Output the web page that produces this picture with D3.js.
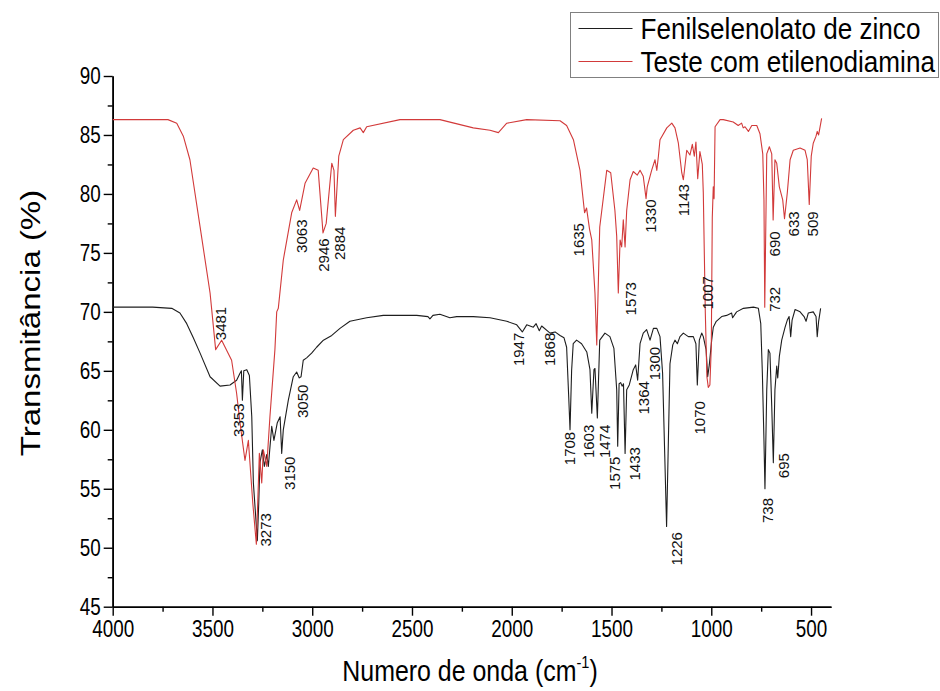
<!DOCTYPE html>
<html>
<head>
<meta charset="utf-8">
<script src="https://cdn.jsdelivr.net/npm/d3@7"></script>
<style>
  body { margin: 0; background: #fff; }
  svg { display: block; }
  text { font-family: "Liberation Sans", Arial, sans-serif; fill: #000; }
  .peak { font-size: 15px; fill: #111; }
</style>
</head>
<body>
<div id="chart"></div>
<script>
// [wavenumber cm-1, transmittance %]
const fenilSelenolato = [
  [4000, 70.4], [3800, 70.4], [3704, 70.3], [3663, 69.9], [3629, 69.0], [3596, 67.8], [3562, 66.5],
  [3512, 64.5], [3462, 63.7], [3412, 63.8], [3379, 64.2], [3362, 64.8], [3355, 65.0], [3350, 62.5],
  [3343, 65.0], [3328, 65.1], [3315, 64.6], [3303, 61.1], [3295, 55.5], [3275, 50.6], [3268, 53.8],
  [3262, 57.2], [3250, 58.3], [3240, 56.9], [3228, 57.9], [3220, 56.9], [3203, 60.3], [3192, 59.1],
  [3175, 60.6], [3161, 61.1], [3153, 58.0], [3145, 60.0], [3120, 62.5], [3095, 64.5], [3078, 64.9],
  [3065, 64.4], [3056, 64.5], [3045, 65.9], [3028, 66.1], [3003, 66.5], [2978, 67.0], [2944, 67.6],
  [2902, 68.0], [2861, 68.6], [2811, 69.2], [2727, 69.5], [2644, 69.7], [2476, 69.7], [2420, 69.6],
  [2410, 69.4], [2395, 69.7], [2360, 69.8], [2310, 69.5], [2276, 69.6], [2193, 69.6], [2109, 69.5],
  [2025, 69.2], [1975, 68.9], [1947, 68.3], [1925, 68.9], [1892, 68.7], [1878, 69.0], [1862, 68.4],
  [1850, 68.8], [1808, 68.2], [1783, 68.3], [1758, 68.0], [1738, 67.8], [1725, 67.0], [1715, 63.0],
  [1708, 60.0], [1700, 65.0], [1692, 67.3], [1675, 67.6], [1650, 67.3], [1624, 66.6], [1608, 65.1],
  [1599, 61.4], [1588, 65.1], [1583, 65.2], [1571, 61.0], [1559, 67.6], [1533, 68.2], [1508, 67.9],
  [1488, 66.9], [1474, 63.4], [1469, 58.6], [1462, 63.9], [1454, 64.0], [1447, 63.7], [1440, 63.9],
  [1432, 58.0], [1424, 63.4], [1411, 63.8], [1391, 65.1], [1379, 65.5], [1369, 64.2], [1357, 67.3],
  [1341, 68.2], [1324, 68.5], [1307, 67.6], [1290, 68.6], [1273, 68.6], [1257, 67.9], [1244, 64.8],
  [1233, 57.7], [1224, 51.8], [1215, 59.1], [1207, 65.6], [1193, 67.2], [1182, 67.6], [1170, 67.3],
  [1157, 67.9], [1140, 68.2], [1115, 67.9], [1090, 67.9], [1077, 67.3], [1070, 63.8], [1060, 67.6],
  [1048, 68.2], [1040, 67.9], [1026, 66.8], [1018, 64.5], [1010, 65.5], [998, 67.6], [990, 68.7],
  [975, 69.2], [948, 69.6], [923, 69.7], [898, 69.9], [893, 69.5], [873, 70.0], [839, 70.3],
  [789, 70.4], [764, 70.3], [752, 69.0], [744, 64.8], [736, 59.1], [731, 55.0], [722, 63.4],
  [714, 66.8], [706, 66.5], [697, 62.0], [689, 57.2], [681, 63.4], [672, 65.4], [667, 64.4],
  [659, 66.2], [647, 67.6], [630, 68.7], [619, 69.3], [610, 69.6], [602, 67.9], [595, 69.3],
  [580, 70.2], [555, 70.0], [535, 69.6], [525, 69.2], [514, 69.9], [489, 70.0], [475, 69.6],
  [469, 67.9], [462, 69.2], [452, 70.3]
];

const testeEtilenodiamina = [
  [4000, 86.3], [3800, 86.3], [3723, 86.3], [3679, 86.0], [3646, 84.9], [3613, 82.9], [3562, 77.2],
  [3512, 71.6], [3484, 66.8], [3454, 67.6], [3404, 65.9], [3379, 63.1], [3362, 60.6], [3337, 57.4],
  [3320, 59.1], [3298, 53.8], [3280, 50.3], [3265, 58.0], [3253, 55.5], [3245, 58.3], [3228, 56.9],
  [3212, 61.1], [3187, 66.8], [3178, 70.0], [3170, 70.3], [3145, 74.4], [3103, 78.4], [3078, 79.5],
  [3063, 78.6], [3036, 80.9], [2995, 82.2], [2970, 82.0], [2946, 76.7], [2930, 77.5], [2902, 82.6],
  [2891, 82.0], [2884, 78.1], [2867, 83.2], [2844, 84.6], [2794, 85.4], [2760, 85.6], [2744, 85.2],
  [2727, 85.7], [2560, 86.3], [2393, 86.3], [2360, 86.3], [2193, 85.6], [2109, 85.4], [2067, 85.2],
  [2025, 86.0], [1925, 86.3], [1758, 86.2], [1725, 85.8], [1691, 84.6], [1658, 82.0], [1635, 78.4],
  [1625, 78.8], [1610, 77.0], [1599, 76.1], [1583, 71.6], [1574, 67.2], [1559, 77.2], [1524, 82.0],
  [1504, 81.8], [1483, 78.6], [1474, 76.4], [1466, 71.6], [1457, 76.1], [1449, 75.5], [1441, 77.8],
  [1432, 75.5], [1424, 78.6], [1407, 81.2], [1391, 81.9], [1371, 81.6], [1357, 82.0], [1341, 81.5],
  [1327, 79.6], [1321, 80.6], [1299, 82.0], [1282, 82.9], [1273, 82.0], [1265, 83.2], [1257, 84.6],
  [1223, 85.6], [1198, 86.0], [1182, 85.6], [1165, 84.3], [1148, 81.8], [1140, 81.2], [1123, 83.7],
  [1107, 83.3], [1095, 84.2], [1085, 83.2], [1077, 84.4], [1068, 81.3], [1057, 83.6], [1045, 82.5],
  [1040, 80.1], [1030, 70.0], [1022, 64.5], [1015, 63.6], [1007, 63.8], [1000, 67.0], [995, 78.0],
  [990, 80.6], [986, 79.6], [981, 85.7], [956, 86.3], [940, 86.3], [890, 86.1], [865, 85.8],
  [848, 86.0], [840, 85.6], [831, 85.7], [814, 85.3], [797, 85.8], [772, 85.8], [756, 85.1],
  [742, 83.4], [736, 79.5], [732, 70.4], [722, 83.4], [709, 84.0], [697, 83.4], [690, 77.8],
  [681, 82.9], [672, 82.6], [659, 80.6], [642, 79.5], [633, 77.9], [619, 80.1], [605, 82.9],
  [589, 83.7], [555, 83.9], [530, 83.7], [519, 82.9], [509, 79.1], [499, 83.2], [489, 84.3],
  [475, 84.9], [469, 85.3], [462, 85.0], [447, 86.4]
];

// peak labels: text, wavenumber where the label sits, transmittance at its lower end
const redPeaks = [
  ['3481', 3457, 67.6], ['3063', 3053, 75.0], ['2946', 2944, 73.4], ['2884', 2861, 74.4],
  ['1635', 1664, 74.7], ['1573', 1406, 69.7], ['1330', 1303, 76.7], ['1143', 1140, 78.1],
  ['1007', 1019, 70.2], ['732', 681, 70.0], ['690', 681, 74.7], ['633', 585, 76.4], ['509', 490, 76.4]
];
const blackPeaks = [
  ['3353', 3370, 59.4], ['3273', 3232, 50.1], ['3150', 3111, 54.9], ['3050', 3049, 61.0],
  ['1947', 1967, 65.4], ['1868', 1808, 65.4], ['1708', 1708, 57.0], ['1603', 1616, 57.6],
  ['1474', 1533, 57.6], ['1575', 1485, 54.9], ['1433', 1382, 55.7], ['1364', 1341, 61.3],
  ['1300', 1282, 64.2], ['1226', 1173, 48.5], ['1070', 1057, 59.6], ['738', 719, 52.1],
  ['695', 639, 55.9]
];

const xMajor = [4000, 3500, 3000, 2500, 2000, 1500, 1000, 500];
const xMinor = [3750, 3250, 2750, 2250, 1750, 1250, 750];
const yMajor = [45, 50, 55, 60, 65, 70, 75, 80, 85, 90];
const yMinor = [47.5, 52.5, 57.5, 62.5, 67.5, 72.5, 77.5, 82.5, 87.5];

const seriesNames = ['Fenilselenolato de zinco', 'Teste com etilenodiamina'];
const seriesColors = ['#1e1e1e', '#d23a3a'];

const width = 940, height = 691;
const squeeze = 0.82; // the reference lettering is narrow (Arial Narrow look)
const x = d3.scaleLinear().domain([4000, 400]).range([112.7, 831]);
const y = d3.scaleLinear().domain([45, 90]).range([606.7, 76]);

const svg = d3.select('#chart').append('svg')
  .attr('width', width)
  .attr('height', height);

function styleAxis(g) {
  g.select('.domain').attr('stroke', '#000').attr('stroke-width', 1.6);
  g.selectAll('.tick line').attr('stroke', '#000').attr('stroke-width', 1.4);
}

// x axis
svg.append('g')
  .attr('transform', `translate(0,${y(45)})`)
  .call(d3.axisBottom(x).tickValues(xMinor).tickSize(5).tickSizeOuter(0).tickFormat(''))
  .call(styleAxis);
const xAxis = svg.append('g')
  .attr('transform', `translate(0,${y(45)})`)
  .call(d3.axisBottom(x).tickValues(xMajor).tickSize(9).tickSizeOuter(0).tickPadding(5).tickFormat(d3.format('d')))
  .call(styleAxis);
xAxis.selectAll('text')
  .attr('font-size', 23)
  .attr('fill', '#000')
  .attr('transform', `scale(${squeeze},1)`);

// y axis
svg.append('g')
  .attr('transform', `translate(${x(4000)},0)`)
  .call(d3.axisLeft(y).tickValues(yMinor).tickSize(5).tickSizeOuter(0).tickFormat(''))
  .call(styleAxis);
const yAxis = svg.append('g')
  .attr('transform', `translate(${x(4000)},0)`)
  .call(d3.axisLeft(y).tickValues(yMajor).tickSize(9).tickSizeOuter(0).tickFormat(d3.format('d')))
  .call(styleAxis);
yAxis.selectAll('text')
  .attr('font-size', 23)
  .attr('fill', '#000')
  .attr('x', -12 / squeeze)
  .attr('transform', `scale(${squeeze},1)`);

// spectra
const line = d3.line().x(d => x(d[0])).y(d => y(d[1]));
[fenilSelenolato, testeEtilenodiamina].forEach((data, i) => {
  svg.append('path')
    .datum(data)
    .attr('fill', 'none')
    .attr('stroke', seriesColors[i])
    .attr('stroke-width', 1.1)
    .attr('stroke-linejoin', 'round')
    .attr('d', line);
});

// peak labels
svg.append('g').selectAll('text')
  .data(redPeaks.concat(blackPeaks))
  .join('text')
  .attr('class', 'peak')
  .attr('font-size', d => d[0].length < 4 ? 14 : 15)
  .attr('transform', d => `translate(${x(d[1])},${y(d[2])}) rotate(-90)`)
  .attr('dy', '0.36em')
  .text(d => d[0]);

// axis titles
const xTitle = svg.append('g')
  .attr('transform', `translate(470,681) scale(0.86,1)`)
  .append('text')
  .attr('text-anchor', 'middle')
  .attr('font-size', 29);
xTitle.append('tspan').text('Numero de onda (cm');
xTitle.append('tspan').attr('font-size', 17).attr('dy', -13).text('-1');
xTitle.append('tspan').attr('dy', 13).text(')');

svg.append('g')
  .attr('transform', 'translate(40,323) rotate(-90) scale(1,0.85)')
  .append('text')
  .attr('text-anchor', 'middle')
  .attr('font-size', 33)
  .text('Transmitância (%)');

// legend
const legend = svg.append('g').attr('transform', 'translate(570.5,12.5)');
legend.append('rect')
  .attr('width', 368)
  .attr('height', 65)
  .attr('fill', '#fff')
  .attr('stroke', '#808080')
  .attr('stroke-width', 1);
seriesNames.forEach((name, i) => {
  const row = legend.append('g').attr('transform', `translate(0,${16 + i * 33})`);
  row.append('line')
    .attr('x1', 8).attr('x2', 62)
    .attr('stroke', seriesColors[i])
    .attr('stroke-width', 1.2);
  row.append('text')
    .attr('transform', 'translate(70,0) scale(0.9,1)')
    .attr('dy', '0.35em')
    .attr('font-size', 29)
    .text(name);
});
</script>
</body>
</html>
